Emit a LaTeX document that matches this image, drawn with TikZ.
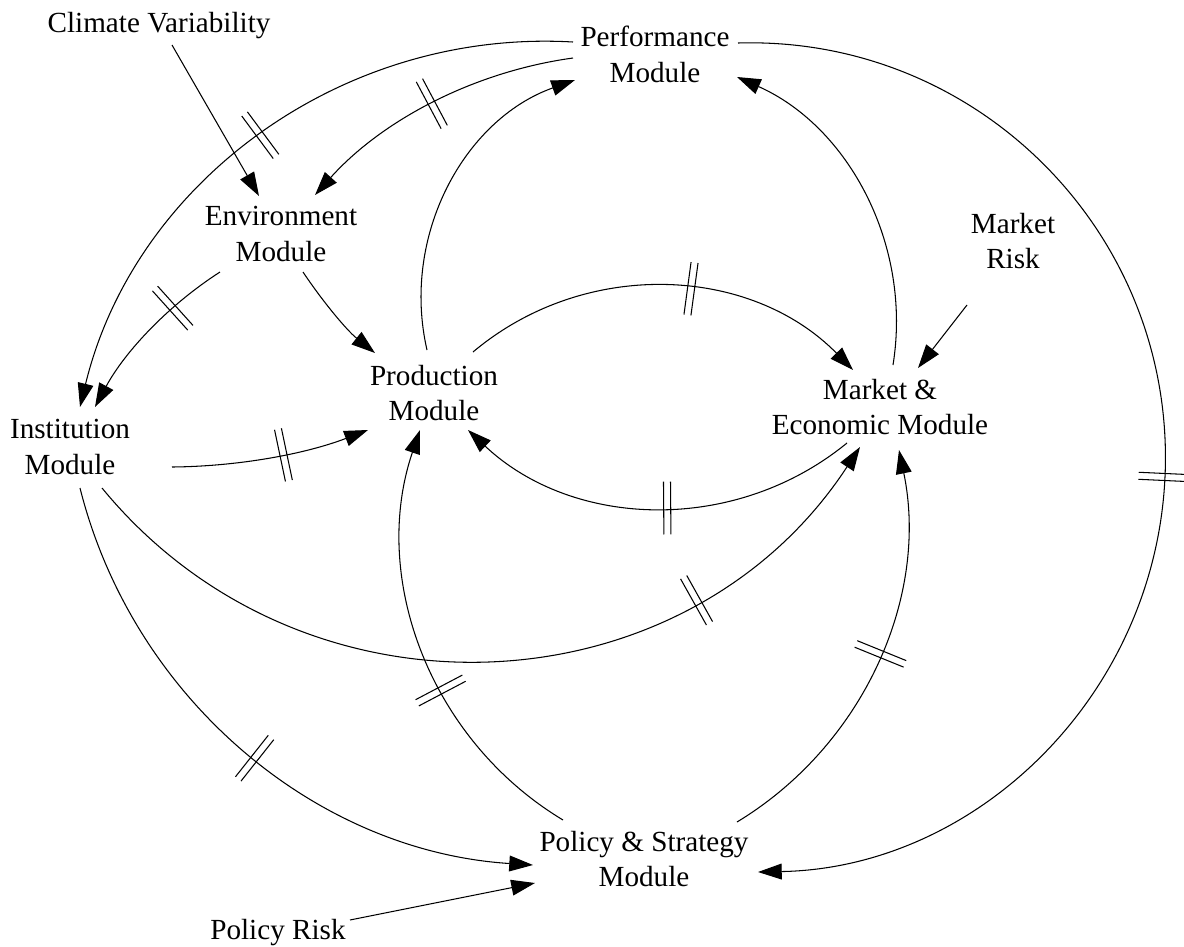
\documentclass[tikz,border=0pt]{standalone}
\usepackage{fontspec}
\setmainfont{Liberation Serif}
\usetikzlibrary{arrows.meta,calc}
\newcommand\drawdelay[1]{\draw[mk] (#1.north west) -- (#1.south west) (#1.north east) -- (#1.south east);}
\begin{document}
\begin{tikzpicture}[x=0.02cm, y=-0.02cm,
  lbl/.style={align=center, inner sep=0pt, font=\fontsize{16.6}{20.4}\selectfont},
  conn/.style={line width=0.6pt, -{Triangle[length=13.5pt,width=9pt]}},
  dly/.style={sloped, draw=none, inner sep=0pt, minimum width=3.4pt, minimum height=29.5pt},
  mk/.style={line width=0.6pt}]
\useasboundingbox (0,0) rectangle (1184,947);
\fill[white] (0,0) rectangle (1184,947);

% nodes
\node[lbl] (cv)    at (159,26)  {Climate Variability};
\node[lbl] (perf)  at (655,54)  {Performance\\Module};
\node[lbl] (env)   at (281,234) {Environment\\Module};
\node[lbl] (mrisk) at (1013,241) {Market\\Risk};
\node[lbl] (prod)  at (434,393) {Production\\Module};
\node[lbl] (mkt)   at (880,407) {Market \&\\Economic Module};
\node[lbl] (inst)  at (70,447)  {Institution\\Module};
\node[lbl] (pol)   at (644,859) {Policy \& Strategy\\Module};
\node[lbl] (prisk) at (278,933) {Policy Risk};

% straight links
\draw[conn] ($(cv)+(13,19)$) -- ($(env)+(-22,-38)$);
\draw[conn] ($(mrisk)+(-46,64)$) -- ($(mkt)+(38,-39)$);
\draw[conn] ($(prisk)+(72,-13)$) -- ($(pol)+(-109,24)$);

% curved links
\draw[conn] ($(perf)+(-82,4)$) .. controls (473.5,71.7) and (382,120.3) .. ($(env)+(34,-39)$) node[dly,pos=0.5] (d1) {};
\draw[conn] ($(perf)+(-82,-12)$) .. controls (342,28.6) and (134.5,182.2) .. ($(inst)+(10,-40)$) node[dly,pos=0.5] (d2) {};
\draw[conn] ($(perf)+(83,-11)$) .. controls (979.5,35.8) and (1176.1,235.7) .. (1165,477)
            .. controls (1154.9,695.6) and (976.8,867.9) .. ($(pol)+(114,13)$) node[dly,pos=0] (d3) {};
\draw[conn] ($(env)+(-61,38)$) .. controls (167.6,305.7) and (124.6,352.2) .. ($(inst)+(25,-40)$) node[dly,pos=0.32] (d4) {};
\draw[conn] ($(env)+(22,38)$) .. controls (323,302) and (347,330.5) .. ($(prod)+(-59,-40)$);
\draw[conn] ($(prod)+(-7,-43)$) .. controls (400.7,235.5) and (464.3,119.4) .. ($(perf)+(-80,26)$);
\draw[conn] ($(prod)+(39,-41)$) .. controls (584.9,257.8) and (750.5,265.6) .. ($(mkt)+(-27,-37)$) node[dly,pos=0.56] (d5) {};
\draw[conn] ($(mkt)+(13,-42)$) .. controls (912.4,244.8) and (848.3,126.4) .. ($(perf)+(82,23)$);
\draw[conn] ($(mkt)+(-33,36)$) .. controls (735.3,534.4) and (573.1,528.9) .. ($(prod)+(34,37)$) node[dly,pos=0.47] (d6) {};
\draw[conn] ($(inst)+(102,20)$) .. controls (239,466.4) and (305.4,453.9) .. ($(prod)+(-66,37)$) node[dly,pos=0.56] (d7) {};
\draw[conn] ($(inst)+(32,41)$) .. controls (304,734) and (686,713) .. ($(mkt)+(-20,40)$) node[dly,pos=0.75] (d8) {};
\draw[conn] ($(inst)+(10,41)$) .. controls (133,698.8) and (316,851.2) .. ($(pol)+(-111,6)$) node[dly,pos=0.52] (d9) {};
\draw[conn] ($(pol)+(-81,-39)$) .. controls (429.6,739.7) and (369.9,577.4) .. ($(prod)+(-14,37)$) node[dly,pos=0.4] (d10) {};
\draw[conn] ($(pol)+(93,-37)$) .. controls (864.4,744.9) and (929.3,595.8) .. ($(mkt)+(19,43)$) node[dly,pos=0.52] (d11) {};

% delay marks
\drawdelay{d1}\drawdelay{d2}\drawdelay{d3}\drawdelay{d4}\drawdelay{d5}\drawdelay{d6}
\drawdelay{d7}\drawdelay{d8}\drawdelay{d9}\drawdelay{d10}\drawdelay{d11}
\end{tikzpicture}
\end{document}
